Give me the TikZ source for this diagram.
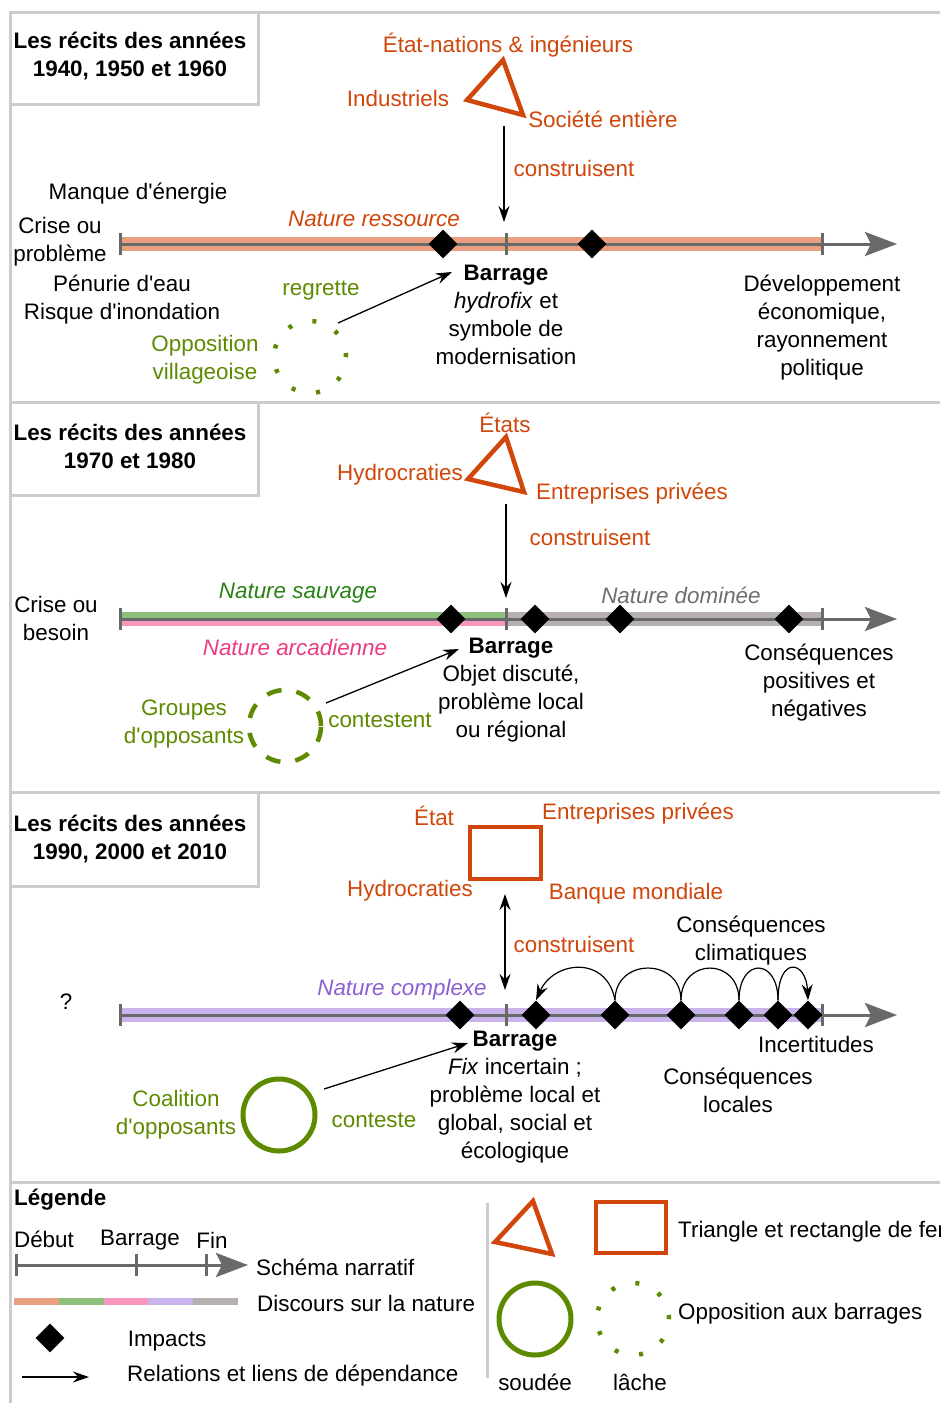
\documentclass[tikz,border=0pt]{standalone}
\usepackage{fontspec}
\setmainfont{Liberation Sans}
\usetikzlibrary{arrows.meta,shapes.geometric,positioning}
\definecolor{fer}{RGB}{209,70,10}
\definecolor{oppo}{RGB}{94,138,0}
\definecolor{cadre}{RGB}{204,204,204}
\definecolor{axe}{RGB}{105,105,105}
\definecolor{ressource}{RGB}{232,160,128}
\definecolor{sauvage}{RGB}{140,192,124}
\definecolor{sauvagetxt}{RGB}{40,130,20}
\definecolor{arcadie}{RGB}{250,150,190}
\definecolor{arcadietxt}{RGB}{235,60,130}
\definecolor{complexe}{RGB}{200,180,235}
\definecolor{complexetxt}{RGB}{140,95,210}
\definecolor{domine}{RGB}{182,176,176}
\definecolor{dominetxt}{RGB}{110,110,110}
\newcommand{\apos}{\textquotesingle}
\tikzset{
  >={Stealth[length=16pt,width=11pt]},
  px/.style={x={(1pt,0pt)},y={(0pt,-1pt)}},
  cadreligne/.style={draw=cadre, line width=3pt},
  txt/.style={inner sep=0pt, align=center, font=\fontsize{22.4}{28}\selectfont},
  titre/.style={txt, font=\fontsize{22.4}{28}\selectfont\bfseries},
  nature/.style={txt, font=\fontsize{22.4}{28}\selectfont\itshape},
  acteur/.style={txt, text=fer},
  opptxt/.style={txt, text=oppo},
  ferline/.style={draw=fer, line width=4.5pt, line join=miter},
  impact/.style={diamond, fill=black, minimum size=29pt, inner sep=0pt},
  lien/.style={->, line width=1.3pt},
  recit/.style={draw=axe, line width=3pt, -{Stealth[length=32pt,width=24pt,inset=6pt]}},
  borne/.style={draw=axe, line width=3pt},
  soudee/.style={circle, draw=oppo, line width=5pt, minimum size=72pt, inner sep=0pt},
  tiretee/.style={circle, draw=oppo, line width=4.5pt, minimum size=72pt, inner sep=0pt, dash pattern=on 15pt off 15pt},
  pointillee/.style={circle, draw=oppo, line width=4.5pt, minimum size=72pt, inner sep=0pt, dash pattern=on 4pt off 21.1pt},
  boucle/.style={line width=1.2pt}
}
\begin{document}
\begin{tikzpicture}[px]
  \useasboundingbox (0,0) rectangle (940,1403);
  \clip (0,0) rectangle (940,1403);
  \fill[white] (0,0) rectangle (940,1403);

  % cadre
  \draw[cadreligne] (10,1403) -- (10,12) -- (940,12);
  \foreach \y in {402,792,1182}
    \draw[cadreligne] (10,\y) -- (940,\y);
  \draw[cadreligne] (10,12) rectangle (258,104);
  \draw[cadreligne] (10,402) rectangle (258,495);
  \draw[cadreligne] (10,792) rectangle (258,886);

  % 1940-1960
  \node[titre] (titre1) at (130,56) {Les récits des années\\1940, 1950 et 1960};
  \draw[ferline] (503,60) -- (467,100) -- (523,115) -- cycle;
  \node[acteur] (etat1) at (508,45) {État-nations \& ingénieurs};
  \node[acteur] (indus1) at (398,98) {Industriels};
  \node[acteur] (soc1) at (603,119) {Société entière};
  \node[acteur] (constr1) at (574,168) {construisent};
  \node[nature, text=fer] (nat1) at (374,219) {Nature ressource};
  \fill[ressource] (120,237) rectangle (822,251);
  \draw[recit] (120,244) -- (897,244);
  \foreach \x in {120,506,822}
    \draw[borne] (\x,233) -- (\x,255);
  \foreach \x [count=\i] in {443,592}
    \node[impact] (imp1\i) at (\x,244) {};
  \node[txt] (manque1) at (138,194) {Manque d\apos énergie};
  \node[txt] (crise1) at (60,242) {Crise ou\\problème};
  \node[txt] (penurie1) at (122,300) {Pénurie d\apos eau\\Risque d\apos inondation};
  \node[txt] (bar1) at (506,315) {\textbf{Barrage}\\\textit{hydrofix} et\\symbole de\\modernisation};
  \node[txt] (fin1) at (822,328) {Développement\\économique,\\rayonnement\\politique};
  \node[pointillee] (opp1) at (310,357) {};
  \node[opptxt] (oppt1) at (205,360) {Opposition\\villageoise};
  \node[opptxt] (regr1) at (321,291) {regrette};
  \coordinate (ca1) at (504,126);
  \coordinate (cb1) at (504,222);
  \draw[lien] (ca1) -- (cb1);
  \coordinate (oa1) at (338,323);
  \coordinate (ob1) at (452,272);
  \draw[lien] (oa1) -- (ob1);

  % 1970-1980
  \node[titre] (titre2) at (130,446) {Les récits des années\\1970 et 1980};
  \draw[ferline] (506,437) -- (468,479) -- (524,492) -- cycle;
  \node[acteur] (etat2) at (505,423) {États};
  \node[acteur] (hydro2) at (400,475) {Hydrocraties};
  \node[acteur] (entr2) at (632,494) {Entreprises privées};
  \node[acteur] (constr2) at (590,537) {construisent};
  \fill[sauvage] (120,612) rectangle (506,619);
  \fill[arcadie] (120,619) rectangle (506,626);
  \fill[domine] (506,612) rectangle (822,626);
  \draw[recit] (120,619) -- (897,619);
  \foreach \x in {120,506,822}
    \draw[borne] (\x,608) -- (\x,630);
  \foreach \x [count=\i] in {451,535,620,789}
    \node[impact] (imp2\i) at (\x,619) {};
  \node[nature, text=sauvagetxt] (nat2a) at (298,593) {Nature sauvage};
  \node[nature, text=arcadietxt] (nat2b) at (295,647) {Nature arcadienne};
  \node[nature, text=dominetxt] (nat2c) at (681,595) {Nature dominée};
  \node[txt] (crise2) at (56,618) {Crise ou\\besoin};
  \node[txt] (bar2) at (511,690) {\textbf{Barrage}\\Objet discuté,\\problème local\\ou régional};
  \node[txt] (fin2) at (819,683) {Conséquences\\positives et\\négatives};
  \node[tiretee] (opp2) at (285,726) {};
  \node[opptxt] (oppt2) at (184,724) {Groupes\\d\apos opposants};
  \node[opptxt] (cont2) at (380,720) {contestent};
  \coordinate (ca2) at (506,504);
  \coordinate (cb2) at (506,598);
  \draw[lien] (ca2) -- (cb2);
  \coordinate (oa2) at (326,703);
  \coordinate (ob2) at (459,649);
  \draw[lien] (oa2) -- (ob2);

  % 1990-2010
  \node[titre] (titre3) at (130,839) {Les récits des années\\1990, 2000 et 2010};
  \draw[ferline] (470,827) rectangle (541,879);
  \node[acteur] (etat3) at (434,816) {État};
  \node[acteur] (entr3) at (638,814) {Entreprises privées};
  \node[acteur] (hydro3) at (410,891) {Hydrocraties};
  \node[acteur] (banque3) at (636,894) {Banque mondiale};
  \node[acteur] (constr3) at (574,944) {construisent};
  \fill[complexe] (120,1008) rectangle (822,1022);
  \draw[recit] (120,1015) -- (897,1015);
  \foreach \x in {120,506,822}
    \draw[borne] (\x,1004) -- (\x,1026);
  \foreach \x [count=\i] in {460,536,615,681,739,778,808}
    \node[impact] (imp3\i) at (\x,1015) {};
  \draw[boucle, ->] (imp33.north) .. controls +(-8,-45) and +(18,-40) .. (imp32.north);
  \draw[boucle] (imp34.north) .. controls +(0,-43) and +(0,-43) .. (imp33.north);
  \draw[boucle] (imp35.north) .. controls +(0,-43) and +(0,-43) .. (imp34.north);
  \draw[boucle] (imp36.north) .. controls +(0,-43) and +(0,-43) .. (imp35.north);
  \draw[boucle, ->] (imp36.north) .. controls +(0,-45) and +(-2,-40) .. (imp37.north);
  \node[nature, text=complexetxt] (nat3) at (402,990) {Nature complexe};
  \node[txt] (crise3) at (66,1002) {?};
  \node[txt] (clim3) at (751,941) {Conséquences\\climatiques};
  \node[txt] (incert3) at (816,1044) {Incertitudes};
  \node[txt] (loc3) at (738,1090) {Conséquences\\locales};
  \node[txt] (bar3) at (515,1097) {\textbf{Barrage}\\\textit{Fix} incertain ;\\problème local et\\global, social et\\écologique};
  \node[soudee] (opp3) at (279,1115) {};
  \node[opptxt] (oppt3) at (176,1115) {Coalition\\d\apos opposants};
  \node[opptxt] (cont3) at (374,1120) {conteste};
  \coordinate (ca3) at (505,894);
  \coordinate (cb3) at (505,990);
  \draw[lien, <->] (ca3) -- (cb3);
  \coordinate (oa3) at (324,1089);
  \coordinate (ob3) at (468,1043);
  \draw[lien] (oa3) -- (ob3);

  % legende
  \node[titre, anchor=west] (leg) at (14,1200) {Légende};
  \node[txt] (debut) at (44,1239) {Début};
  \node[txt] (barleg) at (140,1240) {Barrage};
  \node[txt] (finleg) at (212,1240) {Fin};
  \draw[recit] (16,1265) -- (248,1265);
  \foreach \x in {16,136,206}
    \draw[borne] (\x,1254) -- (\x,1276);
  \node[txt, anchor=west] (schema) at (256,1267) {Schéma narratif};
  \foreach \c [count=\i from 0] in {ressource,sauvage,arcadie,complexe,domine}
    \fill[\c] ({14+\i*44.8},1298) rectangle ({14+(\i+1)*44.8},1305);
  \node[txt, anchor=west] (discours) at (257,1303) {Discours sur la nature};
  \node[impact] (impleg) at (50,1338) {};
  \node[txt] (impacts) at (167,1341) {Impacts};
  \coordinate (la) at (22,1377);
  \coordinate (lb) at (89,1377);
  \draw[lien] (la) -- (lb);
  \node[txt, anchor=west] (relations) at (127,1376) {Relations et liens de dépendance};
  \draw[cadreligne] (487,1203) -- (487,1378);
  \draw[ferline] (533,1201) -- (495,1242) -- (552,1254) -- cycle;
  \draw[ferline] (596,1202) rectangle (666,1253);
  \node[txt, anchor=west] (fer) at (678,1232) {Triangle et rectangle de fer};
  \node[soudee] (soud) at (535,1319) {};
  \node[pointillee] (lach) at (633,1319) {};
  \node[txt, anchor=west] (opposition) at (678,1314) {Opposition aux barrages};
  \node[txt] (soudt) at (535,1382) {soudée};
  \node[txt] (lacht) at (640,1382) {lâche};
\end{tikzpicture}
\end{document}
